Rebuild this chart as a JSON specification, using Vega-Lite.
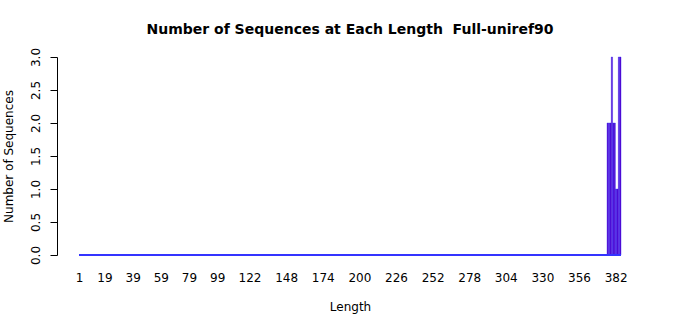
{
"$schema": "https://vega.github.io/schema/vega-lite/v6.json",
"autosize": {"type": "none"},
"width": 542,
"height": 198,
"padding": {"left": 79, "top": 57, "right": 79, "bottom": 60},
"background": "white",
"title": {"text": "Number of Sequences at Each Length \u00a0Full-uniref90", "font": "DejaVu Sans", "fontSize": 14, "fontWeight": "bold", "color": "black", "anchor": "middle", "offset": 10},
"config": {"view": {"stroke": null}, "axis": {"labelFont": "DejaVu Sans", "titleFont": "DejaVu Sans", "labelColor": "black", "titleColor": "black", "labelFontSize": 12, "titleFontSize": 12, "titleFontWeight": "normal", "grid": false}},
"data": {"values": [
{"len":1,"n":0},{"len":2,"n":0},{"len":3,"n":0},{"len":4,"n":0},{"len":5,"n":0},{"len":6,"n":0},{"len":7,"n":0},{"len":8,"n":0},{"len":9,"n":0},{"len":10,"n":0},
{"len":11,"n":0},{"len":12,"n":0},{"len":13,"n":0},{"len":14,"n":0},{"len":15,"n":0},{"len":16,"n":0},{"len":17,"n":0},{"len":18,"n":0},{"len":19,"n":0},{"len":20,"n":0},
{"len":21,"n":0},{"len":22,"n":0},{"len":23,"n":0},{"len":24,"n":0},{"len":25,"n":0},{"len":26,"n":0},{"len":27,"n":0},{"len":28,"n":0},{"len":29,"n":0},{"len":30,"n":0},
{"len":31,"n":0},{"len":32,"n":0},{"len":33,"n":0},{"len":34,"n":0},{"len":35,"n":0},{"len":36,"n":0},{"len":37,"n":0},{"len":38,"n":0},{"len":39,"n":0},{"len":40,"n":0},
{"len":41,"n":0},{"len":42,"n":0},{"len":43,"n":0},{"len":44,"n":0},{"len":45,"n":0},{"len":46,"n":0},{"len":47,"n":0},{"len":48,"n":0},{"len":49,"n":0},{"len":50,"n":0},
{"len":51,"n":0},{"len":52,"n":0},{"len":53,"n":0},{"len":54,"n":0},{"len":55,"n":0},{"len":56,"n":0},{"len":57,"n":0},{"len":58,"n":0},{"len":59,"n":0},{"len":60,"n":0},
{"len":61,"n":0},{"len":62,"n":0},{"len":63,"n":0},{"len":64,"n":0},{"len":65,"n":0},{"len":66,"n":0},{"len":67,"n":0},{"len":68,"n":0},{"len":69,"n":0},{"len":70,"n":0},
{"len":71,"n":0},{"len":72,"n":0},{"len":73,"n":0},{"len":74,"n":0},{"len":75,"n":0},{"len":76,"n":0},{"len":77,"n":0},{"len":78,"n":0},{"len":79,"n":0},{"len":80,"n":0},
{"len":81,"n":0},{"len":82,"n":0},{"len":83,"n":0},{"len":84,"n":0},{"len":85,"n":0},{"len":86,"n":0},{"len":87,"n":0},{"len":88,"n":0},{"len":89,"n":0},{"len":90,"n":0},
{"len":91,"n":0},{"len":92,"n":0},{"len":93,"n":0},{"len":94,"n":0},{"len":95,"n":0},{"len":96,"n":0},{"len":97,"n":0},{"len":98,"n":0},{"len":99,"n":0},{"len":100,"n":0},
{"len":101,"n":0},{"len":102,"n":0},{"len":103,"n":0},{"len":104,"n":0},{"len":105,"n":0},{"len":106,"n":0},{"len":107,"n":0},{"len":108,"n":0},{"len":109,"n":0},{"len":110,"n":0},
{"len":111,"n":0},{"len":112,"n":0},{"len":113,"n":0},{"len":114,"n":0},{"len":115,"n":0},{"len":116,"n":0},{"len":117,"n":0},{"len":118,"n":0},{"len":119,"n":0},{"len":120,"n":0},
{"len":121,"n":0},{"len":122,"n":0},{"len":123,"n":0},{"len":124,"n":0},{"len":125,"n":0},{"len":126,"n":0},{"len":127,"n":0},{"len":128,"n":0},{"len":129,"n":0},{"len":130,"n":0},
{"len":131,"n":0},{"len":132,"n":0},{"len":133,"n":0},{"len":134,"n":0},{"len":135,"n":0},{"len":136,"n":0},{"len":137,"n":0},{"len":138,"n":0},{"len":139,"n":0},{"len":140,"n":0},
{"len":141,"n":0},{"len":142,"n":0},{"len":143,"n":0},{"len":144,"n":0},{"len":145,"n":0},{"len":146,"n":0},{"len":147,"n":0},{"len":148,"n":0},{"len":149,"n":0},{"len":150,"n":0},
{"len":151,"n":0},{"len":152,"n":0},{"len":153,"n":0},{"len":154,"n":0},{"len":155,"n":0},{"len":156,"n":0},{"len":157,"n":0},{"len":158,"n":0},{"len":159,"n":0},{"len":160,"n":0},
{"len":161,"n":0},{"len":162,"n":0},{"len":163,"n":0},{"len":164,"n":0},{"len":165,"n":0},{"len":166,"n":0},{"len":167,"n":0},{"len":168,"n":0},{"len":169,"n":0},{"len":170,"n":0},
{"len":171,"n":0},{"len":172,"n":0},{"len":173,"n":0},{"len":174,"n":0},{"len":175,"n":0},{"len":176,"n":0},{"len":177,"n":0},{"len":178,"n":0},{"len":179,"n":0},{"len":180,"n":0},
{"len":181,"n":0},{"len":182,"n":0},{"len":183,"n":0},{"len":184,"n":0},{"len":185,"n":0},{"len":186,"n":0},{"len":187,"n":0},{"len":188,"n":0},{"len":189,"n":0},{"len":190,"n":0},
{"len":191,"n":0},{"len":192,"n":0},{"len":193,"n":0},{"len":194,"n":0},{"len":195,"n":0},{"len":196,"n":0},{"len":197,"n":0},{"len":198,"n":0},{"len":199,"n":0},{"len":200,"n":0},
{"len":201,"n":0},{"len":202,"n":0},{"len":203,"n":0},{"len":204,"n":0},{"len":205,"n":0},{"len":206,"n":0},{"len":207,"n":0},{"len":208,"n":0},{"len":209,"n":0},{"len":210,"n":0},
{"len":211,"n":0},{"len":212,"n":0},{"len":213,"n":0},{"len":214,"n":0},{"len":215,"n":0},{"len":216,"n":0},{"len":217,"n":0},{"len":218,"n":0},{"len":219,"n":0},{"len":220,"n":0},
{"len":221,"n":0},{"len":222,"n":0},{"len":223,"n":0},{"len":224,"n":0},{"len":225,"n":0},{"len":226,"n":0},{"len":227,"n":0},{"len":228,"n":0},{"len":229,"n":0},{"len":230,"n":0},
{"len":231,"n":0},{"len":232,"n":0},{"len":233,"n":0},{"len":234,"n":0},{"len":235,"n":0},{"len":236,"n":0},{"len":237,"n":0},{"len":238,"n":0},{"len":239,"n":0},{"len":240,"n":0},
{"len":241,"n":0},{"len":242,"n":0},{"len":243,"n":0},{"len":244,"n":0},{"len":245,"n":0},{"len":246,"n":0},{"len":247,"n":0},{"len":248,"n":0},{"len":249,"n":0},{"len":250,"n":0},
{"len":251,"n":0},{"len":252,"n":0},{"len":253,"n":0},{"len":254,"n":0},{"len":255,"n":0},{"len":256,"n":0},{"len":257,"n":0},{"len":258,"n":0},{"len":259,"n":0},{"len":260,"n":0},
{"len":261,"n":0},{"len":262,"n":0},{"len":263,"n":0},{"len":264,"n":0},{"len":265,"n":0},{"len":266,"n":0},{"len":267,"n":0},{"len":268,"n":0},{"len":269,"n":0},{"len":270,"n":0},
{"len":271,"n":0},{"len":272,"n":0},{"len":273,"n":0},{"len":274,"n":0},{"len":275,"n":0},{"len":276,"n":0},{"len":277,"n":0},{"len":278,"n":0},{"len":279,"n":0},{"len":280,"n":0},
{"len":281,"n":0},{"len":282,"n":0},{"len":283,"n":0},{"len":284,"n":0},{"len":285,"n":0},{"len":286,"n":0},{"len":287,"n":0},{"len":288,"n":0},{"len":289,"n":0},{"len":290,"n":0},
{"len":291,"n":0},{"len":292,"n":0},{"len":293,"n":0},{"len":294,"n":0},{"len":295,"n":0},{"len":296,"n":0},{"len":297,"n":0},{"len":298,"n":0},{"len":299,"n":0},{"len":300,"n":0},
{"len":301,"n":0},{"len":302,"n":0},{"len":303,"n":0},{"len":304,"n":0},{"len":305,"n":0},{"len":306,"n":0},{"len":307,"n":0},{"len":308,"n":0},{"len":309,"n":0},{"len":310,"n":0},
{"len":311,"n":0},{"len":312,"n":0},{"len":313,"n":0},{"len":314,"n":0},{"len":315,"n":0},{"len":316,"n":0},{"len":317,"n":0},{"len":318,"n":0},{"len":319,"n":0},{"len":320,"n":0},
{"len":321,"n":0},{"len":322,"n":0},{"len":323,"n":0},{"len":324,"n":0},{"len":325,"n":0},{"len":326,"n":0},{"len":327,"n":0},{"len":328,"n":0},{"len":329,"n":0},{"len":330,"n":0},
{"len":331,"n":0},{"len":332,"n":0},{"len":333,"n":0},{"len":334,"n":0},{"len":335,"n":0},{"len":336,"n":0},{"len":337,"n":0},{"len":338,"n":0},{"len":339,"n":0},{"len":340,"n":0},
{"len":341,"n":0},{"len":342,"n":0},{"len":343,"n":0},{"len":344,"n":0},{"len":345,"n":0},{"len":346,"n":0},{"len":347,"n":0},{"len":348,"n":0},{"len":349,"n":0},{"len":350,"n":0},
{"len":351,"n":0},{"len":352,"n":0},{"len":353,"n":0},{"len":354,"n":0},{"len":355,"n":0},{"len":356,"n":0},{"len":357,"n":0},{"len":358,"n":0},{"len":359,"n":0},{"len":360,"n":0},
{"len":361,"n":0},{"len":362,"n":0},{"len":363,"n":0},{"len":364,"n":0},{"len":365,"n":0},{"len":366,"n":0},{"len":367,"n":0},{"len":368,"n":0},{"len":369,"n":0},{"len":370,"n":0},
{"len":371,"n":0},{"len":372,"n":0},{"len":373,"n":0},{"len":374,"n":0},{"len":375,"n":0},{"len":376,"n":2},{"len":377,"n":2},{"len":378,"n":2},{"len":379,"n":3},{"len":380,"n":2},
{"len":381,"n":2},{"len":382,"n":1},{"len":383,"n":1},{"len":384,"n":3},{"len":385,"n":3}
]},
"layer": [
{"mark": {"type": "bar", "fill": "#5c00c4", "stroke": "#2a2aff", "strokeWidth": 0.4},
"encoding": {
"x": {"field": "len", "type": "ordinal", "sort": "ascending",
 "scale": {"paddingInner": 0.1, "paddingOuter": 0},
 "axis": {"title": "Length", "values": [1,19,39,59,79,99,122,148,174,200,226,252,278,304,330,356,382], "labelAngle": 0, "domain": false, "ticks": false, "labelPadding": 17, "titlePadding": 18, "labelOverlap": false}},
"y": {"field": "n", "type": "quantitative",
 "scale": {"domain": [0, 3], "nice": false, "zero": true},
 "axis": {"title": "Number of Sequences", "values": [0, 0.5, 1, 1.5, 2, 2.5, 3], "format": ".1f", "offset": 22, "tickSize": 7, "tickColor": "black", "domainColor": "black", "labelAngle": 270, "labelAlign": "center", "labelBaseline": "bottom", "labelPadding": 8, "titlePadding": 14, "labelOverlap": false, "labelFlush": false, "tickMinStep": 0.5}}
}},
{"mark": {"type": "rule", "color": "#3535ff", "strokeWidth": 1.3},
 "encoding": {"y": {"datum": 0, "type": "quantitative",
 "axis": {"title": "Number of Sequences", "values": [0, 0.5, 1, 1.5, 2, 2.5, 3], "format": ".1f", "offset": 22, "tickSize": 7, "tickColor": "black", "domainColor": "black", "labelAngle": 270, "labelAlign": "center", "labelBaseline": "bottom", "labelPadding": 8, "titlePadding": 14, "labelOverlap": false, "labelFlush": false, "tickMinStep": 0.5}}}}
]
}
